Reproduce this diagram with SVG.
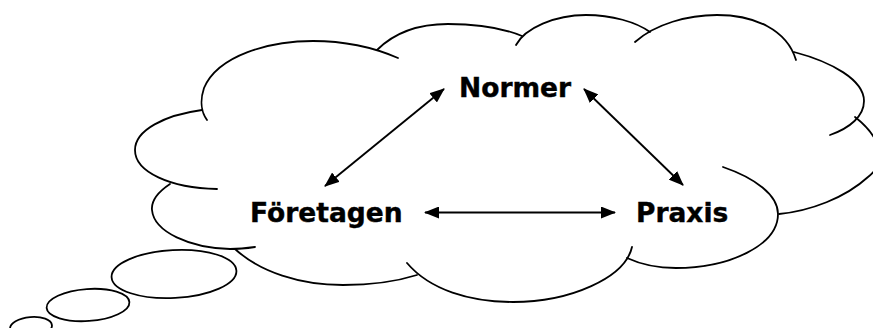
<svg xmlns="http://www.w3.org/2000/svg" width="873" height="328" viewBox="0 0 873 328">
<defs>
<style>
.c{fill:none;stroke:#000;stroke-width:1.8;stroke-linecap:round}
.a{fill:none;stroke:#000;stroke-width:1.9}
.t{font-family:"DejaVu Sans","Verdana",sans-serif;font-weight:bold;font-size:26.5px;fill:#000;stroke:#000;stroke-width:0.4}
</style>
<marker id="ah" viewBox="0 0 15 12" refX="14" refY="6" markerWidth="15" markerHeight="12" markerUnits="userSpaceOnUse" orient="auto-start-reverse">
<path d="M0,0 L15,6 L0,12 z" fill="#000"/>
</marker>
</defs>
<rect width="873" height="328" fill="#fff"/>
<g id="cloud">
<path class="c" d="M202,110 C165,115 135,130 135,150 C135,172 170,188 217,189"/>
<path class="c" d="M207,120 C201,112 200,100 204,88 C218,55 270,41 313,41 C345,41 375,48 398,58"/>
<path class="c" d="M377,50 C395,32 420,24 448,24 C480,24 505,29 522,36"/>
<path class="c" d="M516,45 C525,28 555,15 586,15 C612,15 636,22 650,32"/>
<path class="c" d="M635,42 C655,24 688,15 717,15 C755,15 787,30 796,60"/>
<path class="c" d="M794,52 C832,62 864,80 864,101 C864,116 850,128 830,135"/>
<path class="c" d="M855,117 C878,135 890,160 868,177 C845,198 810,211 779,214"/>
<path class="c" d="M723,167 C755,178 778,195 778,214 C778,245 730,268 676,268 C655,268 640,264 627,258"/>
<path class="c" d="M407,263 C430,290 470,302 513,302 C570,302 625,278 632,247"/>
<path class="c" d="M235,249 C260,272 300,285 343,285 C370,285 398,281 417,275"/>
<path class="c" d="M170,184 C158,192 151,200 152,210 C154,232 190,248 230,249 C240,249 248,248 255,247"/>
<ellipse class="c" cx="174" cy="274" rx="62.5" ry="24" transform="rotate(-3 174 274)"/>
<ellipse class="c" cx="88" cy="305" rx="41.5" ry="16" transform="rotate(-4 88 305)"/>
<ellipse class="c" cx="31" cy="327" rx="21" ry="10" transform="rotate(-5 31 327)"/>
</g>
<g id="connectors">
<line class="a" x1="325" y1="186" x2="444" y2="89" marker-start="url(#ah)" marker-end="url(#ah)"/>
<line class="a" x1="584" y1="89" x2="683" y2="185" marker-start="url(#ah)" marker-end="url(#ah)"/>
<line class="a" x1="425" y1="212.5" x2="615" y2="212.5" marker-start="url(#ah)" marker-end="url(#ah)"/>
</g>
<g id="normer"><text class="t" x="459" y="97">Normer</text></g>
<g id="foretagen"><text class="t" x="250" y="222">Företagen</text></g>
<g id="praxis"><text class="t" x="636" y="222">Praxis</text></g>
</svg>
